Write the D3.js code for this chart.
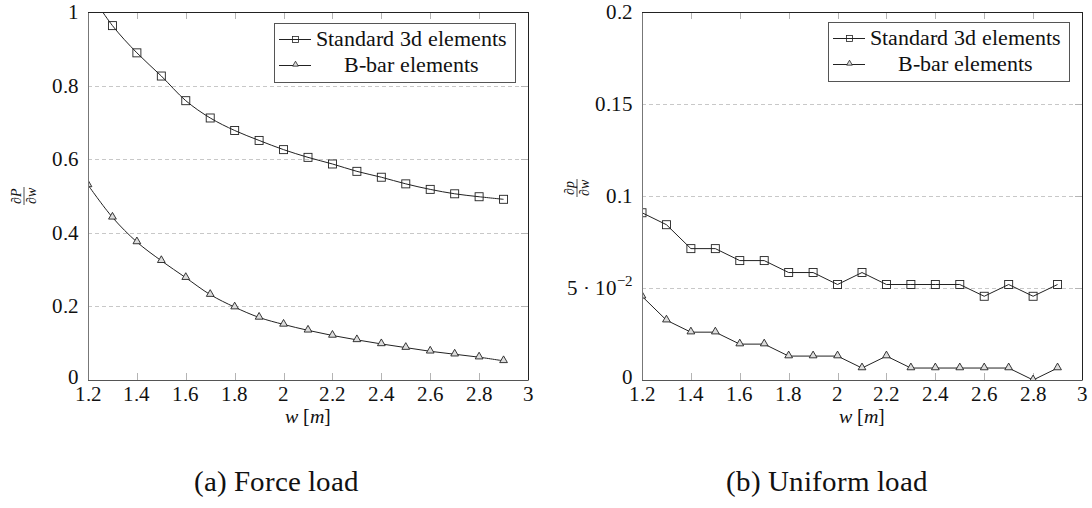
<!DOCTYPE html>
<html>
<head>
<meta charset="utf-8">
<script src="https://cdn.jsdelivr.net/npm/d3@7"></script>
<style>
  @font-face { font-family: "ChartSerif"; src: local("Liberation Serif"), local("LiberationSerif"); font-style: normal; }
  @font-face { font-family: "ChartSerif"; src: local("Liberation Serif Italic"), local("LiberationSerif-Italic"); font-style: italic; }
</style>
</head>
<body style="margin:0">
<div id="chart"></div>
<script>
// data
var wValues = [1.2, 1.3, 1.4, 1.5, 1.6, 1.7, 1.8, 1.9, 2.0, 2.1, 2.2, 2.3, 2.4, 2.5, 2.6, 2.7, 2.8, 2.9];

var forceStandard = [1.06, 0.963, 0.889, 0.826, 0.759, 0.712, 0.678, 0.651, 0.626, 0.605, 0.587, 0.567, 0.551, 0.533, 0.518, 0.506, 0.498, 0.491];
var forceBbar = [0.530, 0.442, 0.375, 0.324, 0.278, 0.232, 0.198, 0.170, 0.151, 0.135, 0.121, 0.109, 0.098, 0.088, 0.078, 0.070, 0.062, 0.052];

var uniformStandard = [0.0909, 0.0844, 0.0714, 0.0714, 0.0649, 0.0649, 0.0584, 0.0584, 0.0519, 0.0584, 0.0519, 0.0519, 0.0519, 0.0519, 0.0455, 0.0519, 0.0455, 0.0519];
var uniformBbar = [0.0455, 0.0325, 0.026, 0.026, 0.0195, 0.0195, 0.013, 0.013, 0.013, 0.0065, 0.013, 0.0065, 0.0065, 0.0065, 0.0065, 0.0065, 0, 0.0065];

var xTicks = [1.2, 1.4, 1.6, 1.8, 2.0, 2.2, 2.4, 2.6, 2.8, 3.0];
var forceYTicks = [0, 0.2, 0.4, 0.6, 0.8, 1];
var uniformYTicks = [0, 0.05, 0.1, 0.15, 0.2];
var seriesNames = ["Standard 3d elements", "B-bar elements"];

// svg container
var svgWidth = 1092;
var svgHeight = 508;

var svg = d3.select("#chart")
  .append("svg")
  .attr("width", svgWidth)
  .attr("height", svgHeight);

// add a serif text element
function addText(parent, size) {
  return parent.append("text")
    .style("font-family", "ChartSerif, Liberation Serif")
    .style("font-size", size + "px")
    .style("fill", "#111");
}

// draw one of the two panels
function drawPanel(cfg) {
  var width = cfg.right - cfg.left;
  var height = cfg.bottom - cfg.top;

  var g = svg.append("g")
    .attr("transform", `translate(${cfg.left}, ${cfg.top})`);

  var xScale = d3.scaleLinear().domain([1.2, 3]).range([0, width]);
  var yScale = d3.scaleLinear().domain(cfg.yDomain).range([height, 0]);

  // dashed grid
  g.selectAll(".grid")
    .data(cfg.grid)
    .enter()
    .append("line")
    .attr("x1", 0)
    .attr("x2", width)
    .attr("y1", d => Math.round(yScale(d)) + 0.5)
    .attr("y2", d => Math.round(yScale(d)) + 0.5)
    .attr("stroke", "#c8c8c8")
    .attr("stroke-dasharray", "4,3");

  // inward ticks, top and bottom
  var tickLen = 7;
  xTicks.slice(1, -1).forEach(function(t) {
    var x = Math.round(xScale(t)) + 0.5;
    g.append("line").attr("x1", x).attr("x2", x).attr("y1", height).attr("y2", height - tickLen)
      .attr("stroke", "#b4b4b4");
    g.append("line").attr("x1", x).attr("x2", x).attr("y1", 0).attr("y2", tickLen)
      .attr("stroke", "#b4b4b4");
  });
  cfg.grid.forEach(function(t) {
    var y = Math.round(yScale(t)) + 0.5;
    g.append("line").attr("x1", width).attr("x2", width - tickLen).attr("y1", y).attr("y2", y)
      .attr("stroke", "#b4b4b4");
  });

  // x tick labels
  xTicks.forEach(function(t) {
    addText(g, 21)
      .attr("x", xScale(t))
      .attr("y", height + 21)
      .attr("text-anchor", "middle")
      .text(String(+t.toFixed(1)));
  });

  // y tick labels
  cfg.yTicks.forEach(function(t) {
    var lab = addText(g, 21)
      .attr("x", -9)
      .attr("y", yScale(t) + (t === 0 ? 4 : 7))
      .attr("text-anchor", "end");
    if (cfg.sciTick && Math.abs(t - 0.05) < 1e-9) {
      lab.append("tspan").text("5 \u00b7 10");
      lab.append("tspan").attr("dy", -9).style("font-size", "15px").text("\u22122");
    } else {
      lab.text(String(+t.toFixed(2)));
    }
  });

  // plot lines, clipped to the axis box
  var clipId = "clip" + cfg.id;
  g.append("clipPath").attr("id", clipId)
    .append("rect").attr("width", width).attr("height", height);

  var plotArea = g.append("g").attr("clip-path", `url(#${clipId})`);

  var line = d3.line()
    .x((d, i) => xScale(wValues[i]))
    .y(d => yScale(d))
    .curve(cfg.smooth ? d3.curveCatmullRom.alpha(0.5) : d3.curveLinear);

  [cfg.standard, cfg.bbar].forEach(function(vals) {
    plotArea.append("path")
      .datum(vals)
      .attr("d", line)
      .attr("fill", "none")
      .attr("stroke", "#222")
      .attr("stroke-width", 1);
  });

  // square marks
  plotArea.selectAll(".sq")
    .data(cfg.standard)
    .enter()
    .append("rect")
    .attr("x", (d, i) => xScale(wValues[i]) - 4)
    .attr("y", d => yScale(d) - 4)
    .attr("width", 8)
    .attr("height", 8)
    .attr("fill", "none")
    .attr("stroke", "#222")
    .attr("stroke-width", 0.9);

  // triangle marks
  var tri = d3.symbol().type(d3.symbolTriangle).size(26);
  plotArea.selectAll(".tri")
    .data(cfg.bbar)
    .enter()
    .append("path")
    .attr("d", tri)
    .attr("transform", (d, i) => `translate(${xScale(wValues[i])}, ${yScale(d) - 0.5})`)
    .attr("fill", "#ddd")
    .attr("stroke", "#222")
    .attr("stroke-width", 0.9);

  // frame
  g.append("line").attr("x1", 0.5).attr("x2", 0.5).attr("y1", 0).attr("y2", height + 0.5).attr("stroke", "#777");
  g.append("line").attr("x1", 0).attr("x2", width).attr("y1", height + 0.5).attr("y2", height + 0.5).attr("stroke", "#555");
  g.append("line").attr("x1", 0).attr("x2", width).attr("y1", 0.5).attr("y2", 0.5).attr("stroke", "#222");
  g.append("line").attr("x1", width + 0.5).attr("x2", width + 0.5).attr("y1", 0).attr("y2", height + 0.5).attr("stroke", "#222");

  // legend
  var lg = svg.append("g").attr("transform", `translate(${cfg.legend[0]}, ${cfg.legend[1]})`);
  lg.append("rect")
    .attr("x", 0.5).attr("y", 0.5)
    .attr("width", 241).attr("height", 59)
    .attr("fill", "#fff")
    .attr("stroke", "#555");
  [16, 42].forEach(function(ry, k) {
    lg.append("line").attr("x1", 5).attr("x2", 37).attr("y1", ry + 0.5).attr("y2", ry + 0.5)
      .attr("stroke", "#222");
    if (k === 0) {
      lg.append("rect").attr("x", 18.5).attr("y", ry - 2.5).attr("width", 6).attr("height", 6)
        .attr("fill", "none").attr("stroke", "#222").attr("stroke-width", 0.8);
    } else {
      lg.append("path").attr("d", d3.symbol().type(d3.symbolTriangle).size(14))
        .attr("transform", `translate(21.5, ${ry - 0.5})`)
        .attr("fill", "#ddd").attr("stroke", "#222").attr("stroke-width", 0.8);
    }
    addText(lg, 21.5)
      .attr("x", 137)
      .attr("y", ry + 7)
      .attr("text-anchor", "middle")
      .text(seriesNames[k]);
  });

  // x label
  var xl = addText(svg, 20)
    .attr("x", cfg.left + width / 2)
    .attr("y", 423)
    .attr("text-anchor", "middle");
  xl.append("tspan").style("font-style", "italic").text("w");
  xl.append("tspan").text(" [");
  xl.append("tspan").style("font-style", "italic").text("m");
  xl.append("tspan").text("]");

  // y label as a rotated fraction
  var yl = svg.append("g")
    .attr("transform", `translate(${cfg.yLabel[0]}, ${cfg.yLabel[1]}) rotate(-90)`);
  addText(yl, 14).attr("x", 0).attr("y", -3).attr("text-anchor", "middle")
    .style("font-style", "italic").text(cfg.numer);
  yl.append("line").attr("x1", -9).attr("x2", 9).attr("y1", 0).attr("y2", 0)
    .attr("stroke", "#222").attr("stroke-width", 0.8);
  addText(yl, 14).attr("x", 0).attr("y", 12).attr("text-anchor", "middle")
    .style("font-style", "italic").text("\u2202w");

  // caption
  addText(svg, 29)
    .attr("x", cfg.caption)
    .attr("y", 491)
    .attr("text-anchor", "middle")
    .text(cfg.captionText);
}

drawPanel({
  id: "a",
  left: 88, right: 528, top: 12, bottom: 380,
  yDomain: [0, 1],
  yTicks: forceYTicks,
  grid: [0.2, 0.4, 0.6, 0.8],
  standard: forceStandard,
  bbar: forceBbar,
  smooth: true,
  legend: [274, 23],
  yLabel: [24, 196],
  numer: "\u2202P",
  caption: 276,
  captionText: "(a) Force load"
});

drawPanel({
  id: "b",
  left: 642, right: 1082, top: 12, bottom: 380,
  yDomain: [0, 0.2],
  yTicks: uniformYTicks,
  grid: [0.05, 0.1, 0.15],
  sciTick: true,
  standard: uniformStandard,
  bbar: uniformBbar,
  smooth: false,
  legend: [828, 22],
  yLabel: [577, 188],
  numer: "\u2202p",
  caption: 827,
  captionText: "(b) Uniform load"
});
</script>
</body>
</html>
